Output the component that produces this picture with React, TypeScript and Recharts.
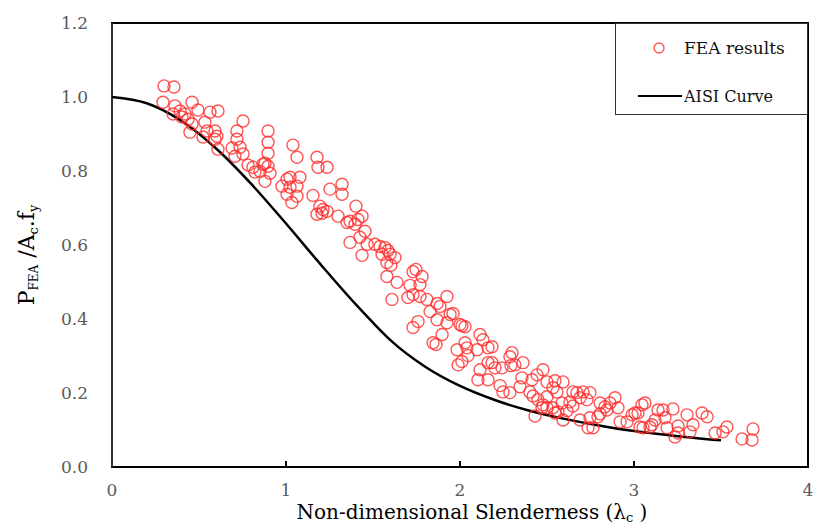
import { ScatterChart, Scatter, XAxis, YAxis, ReferenceArea, Legend } from "recharts"

// FEA results (slenderness / normalised capacity)
const feaLambda = [
  0.299, 0.356, 0.293, 0.362, 0.46, 0.494, 0.563, 0.609, 0.351, 0.391,
  0.42, 0.402, 0.437, 0.46, 0.448, 0.534, 0.546, 0.592, 0.603, 0.592,
  0.609, 0.523, 0.753, 0.718, 0.718, 0.69, 0.736, 0.707, 0.753, 0.897,
  0.897, 0.897, 0.879, 1.04, 1.063, 0.782, 0.81, 0.822, 0.868, 0.897,
  0.908, 0.879, 0.851, 0.977, 1.023, 1.023, 1.063, 1.08, 1.006, 1.063,
  1.034, 1.006,
  1.178, 1.184, 1.236, 1.155, 1.253, 1.322, 1.322, 1.195, 1.213, 1.178,
  1.236, 1.207, 1.299, 1.351, 1.402, 1.437, 1.368, 1.397, 1.414, 1.454,
  1.368, 1.425, 1.466, 1.511, 1.54, 1.569, 1.586, 1.552, 1.598, 1.626,
  1.58, 1.603, 1.437, 1.58, 1.638, 1.73, 1.747, 1.782, 1.713, 1.77,
  1.73, 1.701, 1.77, 1.609,
  1.81, 1.868, 1.925, 1.885, 1.828, 1.943, 1.868, 1.96, 2.0, 2.029,
  1.759, 1.73, 1.925, 2.011, 1.897, 1.845, 1.862, 2.115, 2.132, 2.161,
  2.029, 2.04, 1.983, 2.098, 2.184, 2.046, 1.989, 2.011, 2.115, 2.161,
  2.184, 2.201, 2.103, 2.161, 2.299, 2.287, 2.241, 2.293, 2.316, 2.362,
  2.356, 2.345, 2.23, 2.247, 2.287, 2.414, 2.443, 2.477, 2.402, 2.42,
  2.5, 2.546, 2.592, 2.534, 2.557, 2.5, 2.448, 2.477, 2.5, 2.471,
  2.534, 2.546, 2.431, 2.649, 2.672, 2.707, 2.747, 2.69, 2.73, 2.586,
  2.632, 2.649, 2.563, 2.615, 2.592, 2.69, 2.736, 2.764, 2.747, 2.793,
  2.805, 2.805, 2.833, 2.862, 2.845, 2.908, 2.891, 2.92, 2.96, 2.989,
  3.006, 3.023, 3.046, 3.063, 3.052, 3.092, 3.034, 3.103, 3.138,
  3.121, 3.178, 3.167, 3.224, 3.19, 3.253, 3.253, 3.236, 3.305, 3.339,
  3.322, 3.391, 3.42, 3.466, 3.511, 3.534, 3.621, 3.678, 3.684,
]

const feaRatio = [
  1.03, 1.027, 0.986, 0.976, 0.986, 0.965, 0.959, 0.962, 0.954, 0.962,
  0.954, 0.946, 0.94, 0.927, 0.905, 0.932, 0.908, 0.908, 0.894, 0.886,
  0.859, 0.892, 0.935, 0.908, 0.886, 0.862, 0.864, 0.84, 0.846, 0.908,
  0.878, 0.848, 0.821, 0.87, 0.837, 0.816, 0.81, 0.797, 0.818, 0.813,
  0.794, 0.772, 0.799, 0.759, 0.783, 0.756, 0.759, 0.783, 0.737, 0.732,
  0.715, 0.778,
  0.837, 0.81, 0.81, 0.734, 0.751, 0.764, 0.737, 0.705, 0.696, 0.683,
  0.691, 0.686, 0.678, 0.661, 0.705, 0.678, 0.664, 0.656, 0.669, 0.637,
  0.607, 0.621, 0.602, 0.602, 0.596, 0.593, 0.585, 0.575, 0.575, 0.566,
  0.553, 0.545, 0.572, 0.515, 0.499, 0.528, 0.534, 0.515, 0.491, 0.493,
  0.466, 0.458, 0.461, 0.453,
  0.453, 0.442, 0.461, 0.434, 0.42, 0.412, 0.398, 0.415, 0.385, 0.379,
  0.393, 0.377, 0.39, 0.382, 0.358, 0.336, 0.331, 0.358, 0.344, 0.322,
  0.336, 0.322, 0.317, 0.317, 0.325, 0.301, 0.276, 0.285, 0.263, 0.282,
  0.282, 0.268, 0.236, 0.236, 0.309, 0.298, 0.268, 0.274, 0.276, 0.282,
  0.241, 0.217, 0.22, 0.203, 0.201, 0.236, 0.249, 0.263, 0.203, 0.192,
  0.23, 0.233, 0.23, 0.214, 0.203, 0.19, 0.182, 0.168, 0.16, 0.16,
  0.16, 0.146, 0.138, 0.203, 0.201, 0.203, 0.201, 0.187, 0.182, 0.173,
  0.176, 0.165, 0.149, 0.152, 0.127, 0.127, 0.106, 0.106, 0.133, 0.136,
  0.144, 0.173, 0.163, 0.173, 0.154, 0.16, 0.187, 0.122, 0.122, 0.141,
  0.146, 0.146, 0.168, 0.173, 0.106, 0.108, 0.108, 0.114, 0.154,
  0.127, 0.133, 0.154, 0.157, 0.106, 0.111, 0.092, 0.081, 0.141, 0.114,
  0.095, 0.146, 0.136, 0.092, 0.095, 0.108, 0.076, 0.073, 0.103,
]

// AISI design curve
const aisiLambda = [0, 0.2, 0.4, 0.6, 0.8, 1.0, 1.2, 1.4, 1.5, 1.6, 1.8, 2.0, 2.2, 2.4, 2.6, 2.8, 3.0, 3.2, 3.5]
const aisiRatio = [1.0, 0.983, 0.935, 0.86, 0.765, 0.658, 0.547, 0.44, 0.39, 0.343, 0.271, 0.219, 0.181, 0.152, 0.13, 0.112, 0.097, 0.086, 0.072]

const xTicks = [0, 1, 2, 3, 4]
const yTicks = [0, 0.2, 0.4, 0.6, 0.8, 1.0, 1.2]

const feaData = feaLambda.map((x, i) => ({ x, y: feaRatio[i] }))
const aisiData = aisiLambda.map((x, i) => ({ x, y: aisiRatio[i] }))

const SERIF = "'DejaVu Serif', 'Liberation Serif', 'Noto Serif', serif"
const RED = "#ff2a2a"

function OpenCircle(props: any) {
  const { cx, cy } = props
  if (cx == null || cy == null) return <g />
  return <circle cx={cx} cy={cy} r={6} fill="none" stroke={RED} strokeOpacity={0.8} strokeWidth={1.4} />
}

function LegendBox() {
  return (
    <div style={{ width: 193, height: 92, border: "1px solid #333", boxSizing: "border-box", background: "#fff" }}>
      <svg width={193} height={92} style={{ display: "block" }}>
        <circle cx={43} cy={24} r={5} fill="none" stroke={RED} strokeOpacity={0.8} strokeWidth={1.4} />
        <text x={68} y={30} fontFamily={SERIF} fontSize={17} fill="#111">FEA results</text>
        <line x1={22} x2={66} y1={72} y2={72} stroke="#000" strokeWidth={2} />
        <text x={68} y={78} fontFamily={SERIF} fontSize={16} fill="#111">AISI Curve</text>
      </svg>
    </div>
  )
}

const XTitle = () => (
  <text x={472} y={519} textAnchor="middle" fontFamily={SERIF} fontSize={20} fill="#000">
    Non-dimensional Slenderness (λ
    <tspan fontSize={13} dy={3}>c</tspan>
    <tspan dy={-3}> )</tspan>
  </text>
)

const YTitle = () => (
  <text x={0} y={0} transform="translate(34,255) rotate(-90)" textAnchor="middle" fontFamily={SERIF} fontSize={22} fill="#000">
    P
    <tspan fontSize={12} dy={4}>FEA</tspan>
    <tspan dy={-4}> /A</tspan>
    <tspan fontSize={13} dy={4}>c</tspan>
    <tspan dy={-4}>.f</tspan>
    <tspan fontSize={13} dy={4}>y</tspan>
  </text>
)

export default function App() {
  return (
    <div style={{ position: "absolute", left: 0, top: 0, background: "#fff" }}>
      <ScatterChart width={815} height={525} margin={{ top: 23, right: 7, bottom: 28, left: 52 }}>
        <XAxis
          type="number"
          dataKey="x"
          domain={[0, 4]}
          ticks={xTicks}
          height={30}
          tickSize={-6}
          tickMargin={23}
          axisLine={{ stroke: "#000", strokeWidth: 2 }}
          tickLine={{ stroke: "#000", strokeWidth: 2 }}
          tick={{ fill: "#5a5a5a", fontSize: 17, fontFamily: SERIF }}
          label={<XTitle />}
        />
        <YAxis
          type="number"
          dataKey="y"
          domain={[0, 1.2]}
          ticks={yTicks}
          width={60}
          tickSize={0}
          tickMargin={24}
          tickLine={false}
          tickFormatter={(v: number) => v.toFixed(1)}
          axisLine={{ stroke: "#333", strokeWidth: 2 }}
          tick={{ fill: "#5a5a5a", fontSize: 17, fontFamily: SERIF }}
          label={<YTitle />}
        />
        <ReferenceArea x1={0} x2={4} y1={0} y2={1.2} fill="none" stroke="#000" strokeWidth={2} />
        <Scatter
          name="AISI Curve"
          data={aisiData}
          line={{ stroke: "#000", strokeWidth: 2.5 }}
          lineJointType="monotoneX"
          shape={() => <g />}
          isAnimationActive={false}
        />
        <Scatter name="FEA results" data={feaData} shape={OpenCircle} isAnimationActive={false} />
        <Legend
          layout="horizontal"
          verticalAlign="middle"
          align="center"
          content={() => <LegendBox />}
          wrapperStyle={{ left: 615, top: 23, width: 193, height: 92 }}
        />
      </ScatterChart>
    </div>
  )
}
